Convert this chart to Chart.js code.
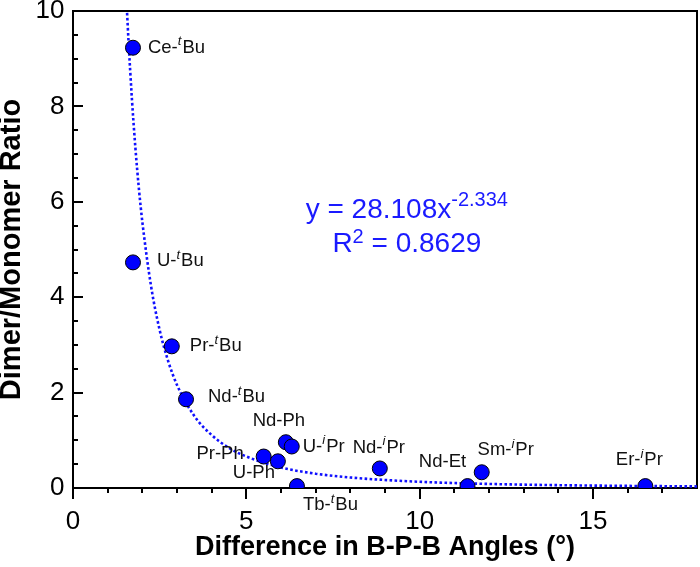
<!DOCTYPE html>
<html><head><meta charset="utf-8">
<script src="https://cdn.jsdelivr.net/npm/chart.js@4/dist/chart.umd.min.js"></script>
<style>html,body{margin:0;padding:0;background:#fff;} #wrap{width:700px;height:567px;}</style>
</head><body><div id="wrap"><canvas id="c" width="700" height="567"></canvas></div>
<script>
// ---- data ----
const compounds = ["Ce-^tBu","U-^tBu","Pr-^tBu","Nd-^tBu","Nd-Ph","U-^iPr","Pr-Ph","U-Ph","Tb-^tBu","Nd-^iPr","Nd-Et","Sm-^iPr","Er-^iPr"];
const angleDiff  = [1.73, 1.73, 2.85, 3.26, 6.14, 6.31, 5.50, 5.91, 6.46, 8.85, 11.38, 11.79, 16.51];
const dimerRatio = [9.23, 4.73, 2.97, 1.86, 0.96, 0.87, 0.66, 0.56, 0.04, 0.41, 0.04, 0.33, 0.04];
// power-law trend line y = 28.108 x^-2.334 (points along the drawn dotted curve)
const fitX = [1.56, 1.6, 1.7, 1.8, 1.9, 2.0, 2.25, 2.5, 2.75, 3.0, 3.5, 4.0, 4.5, 5.0, 6.0, 7.0, 8.0, 10.0, 12.0, 14.0, 16.0, 18.0];
const fitY = [9.96, 9.39, 8.15, 7.13, 6.28, 5.58, 4.24, 3.31, 2.65, 2.16, 1.51, 1.11, 0.84, 0.66, 0.43, 0.30, 0.22, 0.13, 0.085, 0.059, 0.044, 0.033];
const xTickStep = 5, yTickStep = 2;
const eqLine1 = ["y = 28.108x", "-2.334"];
const eqLine2 = ["R", "2", " = 0.8629"];
const xTitle = "Difference in B-P-B Angles (°)";
const yTitle = "Dimer/Monomer Ratio";

// ---- label placement (pixels relative to each point) ----
const labelPlace = [
  {dx:15, dy:0, a:'left'}, {dx:24, dy:-1, a:'left'}, {dx:18, dy:0, a:'left'}, {dx:22, dy:-2, a:'left'},
  {dx:-7, dy:-21, a:'center'}, {dx:11, dy:0, a:'left'}, {dx:-20, dy:-3, a:'right'}, {dx:-24, dy:12, a:'center'},
  {dx:6, dy:19, a:'left'}, {dx:-1, dy:-21, a:'center'}, {dx:-25, dy:-24, a:'center'}, {dx:24, dy:-22, a:'center'},
  {dx:-6, dy:-26, a:'center'}
];
const FAM = "'Liberation Sans', Arial, sans-serif";

function parseLabel(s){
  const segs=[]; let buf='';
  for(let i=0;i<s.length;i++){
    if(s[i]==='^'){ if(buf){segs.push({t:buf});buf='';} segs.push({t:s[i+1],sup:true}); i++; }
    else buf+=s[i];
  }
  if(buf) segs.push({t:buf});
  return segs;
}

const framePlugin = {
  id:'frame',
  beforeDatasetsDraw(chart){
    const {ctx, chartArea:a, scales:{x,y}} = chart;
    ctx.save();
    ctx.strokeStyle='#000'; ctx.lineWidth=2;
    ctx.strokeRect(a.left, a.top, a.right-a.left, a.bottom-a.top);
    ctx.beginPath();
    for(let v=0; v<18; v++){
      const px = Math.round(x.getPixelForValue(v));
      const len = (v % xTickStep === 0) ? 11 : 5;
      ctx.moveTo(px, a.bottom); ctx.lineTo(px, a.bottom+len);
    }
    for(let v=0.5; v<10; v+=0.5){
      const py = Math.round(y.getPixelForValue(v));
      const len = (v % yTickStep === 0) ? 10 : 5;
      ctx.moveTo(a.left, py); ctx.lineTo(a.left+len, py);
    }
    ctx.stroke();
    ctx.restore();
  }
};

const labelPlugin = {
  id:'labels',
  afterDatasetsDraw(chart){
    const {ctx, scales:{x,y}} = chart;
    ctx.save();
    ctx.fillStyle='#111'; ctx.textBaseline='middle'; ctx.textAlign='left';
    const base = "18.5px "+FAM, sup = "italic 13px "+FAM;
    compounds.forEach((name,i)=>{
      const segs = parseLabel(name);
      let w=0;
      segs.forEach(s=>{ ctx.font = s.sup?sup:base; s.w = ctx.measureText(s.t).width + (s.sup?1:0); w+=s.w; });
      const p = labelPlace[i];
      const px = x.getPixelForValue(angleDiff[i]) + p.dx;
      const py = y.getPixelForValue(dimerRatio[i]) + p.dy;
      let sx = p.a==='left'? px : p.a==='right'? px-w : px-w/2;
      segs.forEach(s=>{
        ctx.font = s.sup?sup:base;
        ctx.fillText(s.t, sx, s.sup? py-6 : py);
        sx += s.w;
      });
    });
    // equation
    ctx.fillStyle='#1a1aff'; ctx.textBaseline='alphabetic';
    const big = "28px "+FAM, small = "20px "+FAM;
    const cx = x.getPixelForValue(9.63);
    const drawLine = (parts, sups, baseY, raise)=>{
      let w=0; const ws=[];
      parts.forEach((t,k)=>{ ctx.font = sups[k]?small:big; ws[k]=ctx.measureText(t).width; w+=ws[k]; });
      let sx = cx - w/2;
      parts.forEach((t,k)=>{ ctx.font = sups[k]?small:big; ctx.fillText(t, sx, sups[k]? baseY-raise : baseY); sx+=ws[k]; });
    };
    drawLine(eqLine1, [false,true], y.getPixelForValue(5.66), 12);
    drawLine(eqLine2, [false,true,false], y.getPixelForValue(4.95), 9);
    ctx.restore();
  }
};

new Chart(document.getElementById('c'), {
  type:'scatter',
  data:{
    datasets:[
      { label:'data', data: angleDiff.map((v,i)=>({x:v, y:dimerRatio[i]})),
        backgroundColor:'#0000ff', borderColor:'#000', borderWidth:1, pointRadius:7.5, order:1 },
      { label:'fit', data: fitX.map((v,i)=>({x:v, y:fitY[i]})), showLine:true,
        borderColor:'#1010ff', borderWidth:2.6, borderDash:[2.6,2.4], pointRadius:0,
        cubicInterpolationMode:'monotone', order:2 }
    ]
  },
  options:{
    responsive:false, animation:false, devicePixelRatio:1,
    layout:{autoPadding:false, padding:{top:11, right:3, left:0, bottom:0}},
    plugins:{legend:{display:false}, tooltip:{enabled:false}},
    scales:{
      x:{ type:'linear', position:'bottom', min:0, max:18,
          grid:{display:false, drawTicks:false}, border:{display:false},
          ticks:{stepSize:xTickStep, includeBounds:false, padding:18, color:'#000', font:{size:26, family:FAM}},
          title:{display:true, text:xTitle, color:'#000', font:{size:27, weight:'bold', family:FAM, lineHeight:1.2}, padding:{top:0,bottom:3}},
          afterFit(s){ s.height = 79; s.paddingLeft = 0; s.paddingRight = 0; } },
      y:{ type:'linear', position:'left', min:0, max:10,
          grid:{display:false, drawTicks:false}, border:{display:false},
          ticks:{stepSize:yTickStep, includeBounds:false, padding:8.5, color:'#000', font:{size:26, family:FAM}},
          title:{display:true, text:yTitle, color:'#000', font:{size:29, weight:'bold', family:FAM, lineHeight:0.83}, padding:0},
          afterFit(s){ s.width = 73; s.paddingTop = 0; s.paddingBottom = 0; } }
    }
  },
  plugins:[framePlugin, labelPlugin]
});
</script></body></html>
